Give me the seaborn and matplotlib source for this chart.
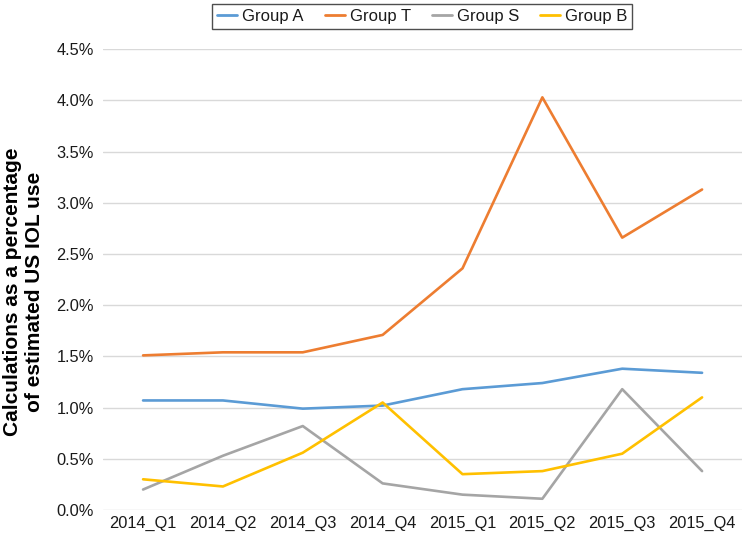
import numpy as np
import pandas as pd
import matplotlib
matplotlib.use("Agg")
import matplotlib.pyplot as plt
import seaborn as sns
from matplotlib.ticker import FuncFormatter

quarters = ["2014_Q1", "2014_Q2", "2014_Q3", "2014_Q4",
            "2015_Q1", "2015_Q2", "2015_Q3", "2015_Q4"]
group_a = [1.07, 1.07, 0.99, 1.02, 1.18, 1.24, 1.38, 1.34]
group_t = [1.51, 1.54, 1.54, 1.71, 2.36, 4.03, 2.66, 3.13]
group_s = [0.20, 0.53, 0.82, 0.26, 0.15, 0.11, 1.18, 0.38]
group_b = [0.30, 0.23, 0.56, 1.05, 0.35, 0.38, 0.55, 1.10]

series = {"Group A": group_a, "Group T": group_t, "Group S": group_s, "Group B": group_b}
colors = {"Group A": "#5B9BD5", "Group T": "#ED7D31", "Group S": "#A5A5A5", "Group B": "#FFC000"}

df = pd.DataFrame(series, index=quarters)
df.index.name = "quarter"
long = df.reset_index().melt(id_vars="quarter", var_name="group", value_name="pct")
long["x"] = long["quarter"].map({q: i for i, q in enumerate(quarters)})

sns.set_style("white")
plt.rcParams["font.family"] = ["Liberation Sans", "DejaVu Sans"]

fig = plt.figure(figsize=(7.42, 5.35), dpi=100)
ax = fig.add_axes([0.139, 0.0467, 0.861, 0.8613])

sns.lineplot(data=long, x="x", y="pct", hue="group", palette=colors,
             hue_order=list(series.keys()), linewidth=1.9, ax=ax, legend=False)

ax.set_xlim(-0.5, len(quarters) - 0.5)
ax.set_ylim(0, 4.5)
ax.set_xticks(range(len(quarters)))
ax.set_xticklabels(quarters)
ax.set_yticks(np.arange(0, 4.51, 0.5))
ax.yaxis.set_major_formatter(FuncFormatter(lambda v, _: f"{v:.1f}%"))
ax.tick_params(axis="both", labelsize=11.8, colors="#1a1a1a", length=0)
ax.tick_params(axis="y", pad=6.5)
ax.tick_params(axis="x", pad=4)
ax.grid(axis="y", color="#D9D9D9", linewidth=1)
ax.set_axisbelow(True)
for s in ax.spines.values():
    s.set_visible(False)

ax.set_xlabel("")
ax.set_ylabel("Calculations as a percentage\nof estimated US IOL use",
              fontsize=15, fontweight="bold", linespacing=1.2, color="black")
ax.yaxis.set_label_coords(-0.092, 0.473)

handles = [plt.Line2D([], [], color=colors[g], linewidth=2) for g in series]
leg = fig.legend(handles, list(series.keys()), loc="center", ncol=4,
                 bbox_to_anchor=(0.569, 0.970), frameon=True, fancybox=False,
                 fontsize=12, handlelength=1.2, columnspacing=1.25,
                 handletextpad=0.3, borderpad=0.3)
leg.get_frame().set_edgecolor("#222222")
leg.get_frame().set_linewidth(1)
for t in leg.get_texts():
    t.set_color("#1a1a1a")

fig.savefig("out.png", dpi=100)
